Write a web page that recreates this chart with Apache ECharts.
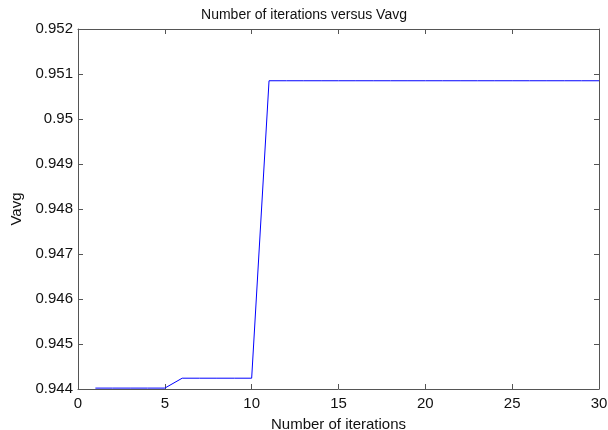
<!DOCTYPE html>
<html>
<head>
<meta charset="utf-8">
<script src="https://cdn.jsdelivr.net/npm/echarts@6/dist/echarts.min.js"></script>
<style>
html, body { margin: 0; padding: 0; background: #fff; }
#main { width: 608px; height: 430px; }
</style>
</head>
<body>
<div id="main"></div>
<script>
// iterations and Vavg
var iterations = [1,2,3,4,5,6,7,8,9,10,11,12,13,14,15,16,17,18,19,20,21,22,23,24,25,26,27,28,29,30];
var vavg = [0.94402,0.94402,0.94402,0.94402,0.94402,
            0.94424,0.94424,0.94424,0.94424,0.94424,
            0.95085,0.95085,0.95085,0.95085,0.95085,0.95085,0.95085,0.95085,0.95085,0.95085,
            0.95085,0.95085,0.95085,0.95085,0.95085,0.95085,0.95085,0.95085,0.95085,0.95085];

var points = iterations.map(function (x, i) { return [x, vavg[i]]; });

var myChart = echarts.init(document.getElementById('main'));

var font = 'Liberation Sans, Arial, sans-serif';
var axisLine = { show: true, onZero: false, lineStyle: { color: '#555', width: 1 } };
var ticks = { show: true, inside: true, length: 5, lineStyle: { color: '#555' } };

option = {
    animation: false,
    title: {
        text: 'Number of iterations versus Vavg',
        left: 'center',
        top: 3,
        textStyle: { fontFamily: font, fontSize: 14, fontWeight: 'normal', color: '#111' }
    },
    grid: { left: 78, right: 9, top: 29, bottom: 41, outerBoundsMode: 'none', containLabel: false },
    xAxis: [{
        type: 'value',
        min: 0, max: 30, interval: 5,
        name: 'Number of iterations',
        nameLocation: 'middle',
        nameGap: 28,
        nameTextStyle: { fontFamily: font, fontSize: 15, color: '#111' },
        axisLine: axisLine,
        axisTick: ticks,
        axisLabel: { fontFamily: font, fontSize: 15, color: '#111', margin: 7 },
        splitLine: { show: false }
    }, {
        type: 'value', position: 'top',
        min: 0, max: 30, interval: 5,
        axisLine: axisLine, axisTick: ticks,
        axisLabel: { show: false }, splitLine: { show: false }
    }],
    yAxis: [{
        type: 'value',
        min: 0.944, max: 0.952, interval: 0.001,
        name: 'Vavg',
        nameLocation: 'middle',
        nameGap: 53,
        nameRotate: 90,
        nameTextStyle: { fontFamily: font, fontSize: 15, color: '#111' },
        axisLine: axisLine,
        axisTick: ticks,
        axisLabel: {
            fontFamily: font, fontSize: 15, color: '#111', margin: 5,
            formatter: function (v) { return String(parseFloat(v.toFixed(3))); }
        },
        splitLine: { show: false }
    }, {
        type: 'value', position: 'right',
        min: 0.944, max: 0.952, interval: 0.001,
        axisLine: axisLine, axisTick: ticks,
        axisLabel: { show: false }, splitLine: { show: false }
    }],
    series: [{
        name: 'Vavg',
        type: 'line',
        data: points,
        showSymbol: false,
        lineStyle: { color: '#0000ff', width: 1 },
        itemStyle: { color: '#0000ff' }
    }]
};

myChart.setOption(option);
</script>
</body>
</html>
